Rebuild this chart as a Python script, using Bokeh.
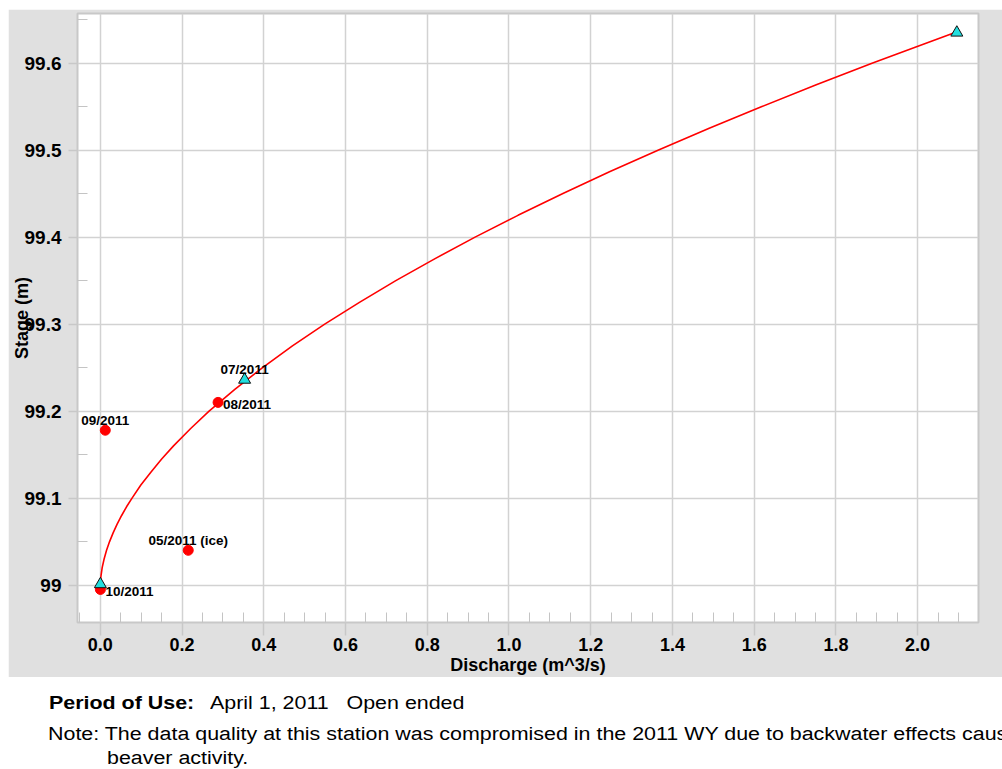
from bokeh.plotting import figure
from bokeh.models import Range1d, FixedTicker, CustomJSTickFormatter, Label, Div
from bokeh.layouts import column
from bokeh.embed import file_html
from bokeh.resources import INLINE

# ---------------- data ----------------
curve_stage = [99.000, 99.005, 99.010, 99.020, 99.030, 99.040, 99.050, 99.060,
               99.070, 99.080, 99.090, 99.100, 99.115, 99.130, 99.145, 99.160,
               99.180, 99.200, 99.225, 99.250, 99.275, 99.300, 99.325, 99.350,
               99.375, 99.400, 99.425, 99.450, 99.475, 99.500, 99.525, 99.550,
               99.575, 99.600, 99.620, 99.635]
curve_discharge = [0.000, 0.0004, 0.0013, 0.0044, 0.0091, 0.0151, 0.0225, 0.0312,
                   0.041, 0.052, 0.064, 0.0775, 0.099, 0.124, 0.150, 0.179,
                   0.221, 0.266, 0.329, 0.397, 0.470, 0.549, 0.634, 0.723,
                   0.818, 0.917, 1.022, 1.132, 1.246, 1.366, 1.490, 1.619,
                   1.752, 1.890, 2.004, 2.090]

meas_discharge = [0.012, 0.288, 0.215, 0.000]
meas_stage = [99.178, 99.210, 99.040, 98.995]
meas_labels = ["09/2011", "08/2011", "05/2011 (ice)", "10/2011"]
meas_label_side = ["above", "right", "above", "right"]

rating_discharge = [0.000, 0.353, 2.096]
rating_stage = [99.001, 99.236, 99.635]
rating_labels = ["", "07/2011", ""]
rating_label_side = ["above", "above", "above"]

x_ticks = [0.0, 0.2, 0.4, 0.6, 0.8, 1.0, 1.2, 1.4, 1.6, 1.8, 2.0]
x_tick_labels = ["0.0", "0.2", "0.4", "0.6", "0.8", "1.0", "1.2", "1.4", "1.6", "1.8", "2.0"]
y_ticks = [99.0, 99.1, 99.2, 99.3, 99.4, 99.5, 99.6]
y_tick_labels = ["99", "99.1", "99.2", "99.3", "99.4", "99.5", "99.6"]

x_title = "Discharge (m^3/s)"
y_title = "Stage (m)"
period_label = "Period of Use:"
period_text = "April 1, 2011   Open ended"
note_line1 = "Note: The data quality at this station was compromised in the 2011 WY due to backwater effects caused by"
note_line2 = "beaver activity."

# ---------------- styles ----------------
FONT = "Liberation Sans"
PANEL = "#e0e0e0"
GRID = "#d2d2d2"
FRAME = "#c8c8c8"

x_min, x_max = -0.056, 2.149
y_min, y_max = 98.957, 99.657

p = figure(width=994, height=668, output_backend="svg", toolbar_location=None,
           x_range=Range1d(x_min, x_max), y_range=Range1d(y_min, y_max),
           min_border_left=69, min_border_right=24, min_border_top=4,
           min_border_bottom=55)
p.margin = (9, 0, 0, 8)
p.border_fill_color = PANEL
p.background_fill_color = "white"
p.outline_line_color = FRAME
p.outline_line_width = 2

x_minor = [round(-0.05 + 0.05 * i, 2) for i in range(45)]
x_minor = [t for t in x_minor if all(abs(t - m) > 1e-6 for m in x_ticks) and t < x_max]
y_minor = [round(98.95 + 0.05 * i, 2) for i in range(15)]
y_minor = [t for t in y_minor if all(abs(t - m) > 1e-6 for m in y_ticks) and y_min < t < y_max]

fmt_code = """
for (let i = 0; i < tvals.length; i++) {
  if (Math.abs(tvals[i] - tick) < 1e-6) { return tlabels[i]; }
}
return "";
"""

xa = p.xaxis[0]
xa.ticker = FixedTicker(ticks=x_ticks, minor_ticks=x_minor)
xa.formatter = CustomJSTickFormatter(args=dict(tvals=x_ticks, tlabels=x_tick_labels), code=fmt_code)
ya = p.yaxis[0]
ya.ticker = FixedTicker(ticks=y_ticks, minor_ticks=y_minor)
ya.formatter = CustomJSTickFormatter(args=dict(tvals=y_ticks, tlabels=y_tick_labels), code=fmt_code)

for ax in (xa, ya):
    ax.axis_line_color = None
    ax.major_tick_line_color = FRAME
    ax.major_tick_line_width = 1.5
    ax.major_tick_in = 0
    ax.minor_tick_line_color = "#c4c4c4"
    ax.minor_tick_line_width = 1
    ax.minor_tick_in = 10
    ax.minor_tick_out = 0
    ax.major_label_text_font = FONT
    ax.major_label_text_font_style = "bold"
    ax.major_label_text_color = "black"
    ax.axis_label_text_font = FONT
    ax.axis_label_text_font_style = "bold"
    ax.axis_label_text_font_size = "18px"
    ax.axis_label_text_color = "black"
xa.major_tick_out = 13
xa.major_label_standoff = 2
xa.major_label_text_font_size = "18px"
ya.major_tick_out = 9
ya.major_label_standoff = 7
ya.major_label_text_font_size = "19px"

xa.axis_label = x_title
xa.axis_label_standoff = 1
ya.axis_label = y_title
ya.axis_label_standoff = -10

p.grid.grid_line_color = GRID
p.grid.grid_line_width = 1.5

# curve and points
p.line(curve_discharge, curve_stage, line_color="red", line_width=1.6)
p.scatter(meas_discharge, meas_stage, marker="circle", size=10,
          fill_color="red", line_color="red")
p.scatter(rating_discharge, rating_stage, marker="triangle", size=12,
          fill_color="#22dede", line_color="#111111", line_width=1)


def add_point_label(x, y, text, side):
    if not text:
        return
    if side == "above":
        lab = Label(x=x, y=y, text=text, text_align="center", text_baseline="middle",
                    x_offset=0, y_offset=10)
    else:
        lab = Label(x=x, y=y, text=text, text_align="left", text_baseline="middle",
                    x_offset=5, y_offset=-2)
    lab.text_font = FONT
    lab.text_font_style = "bold"
    lab.text_font_size = "13.5px"
    lab.text_color = "black"
    p.add_layout(lab)


for x, y, t, s in zip(meas_discharge, meas_stage, meas_labels, meas_label_side):
    add_point_label(x, y, t, s)
for x, y, t, s in zip(rating_discharge, rating_stage, rating_labels, rating_label_side):
    add_point_label(x, y, t, s)

# ---------------- footer text ----------------
span_style = ("position:absolute;transform:scaleX(1.19);transform-origin:0 0;"
              "white-space:pre;")
footer_html = "".join([
    "<div style=\"position:relative;width:994px;height:92px;overflow:hidden;"
    "font-family:'Liberation Sans',Arial,sans-serif;font-size:18px;line-height:18px;"
    "color:#000;\">",
    f"<span style=\"{span_style}left:41px;top:17px;font-weight:bold;\">{period_label}</span>",
    f"<span style=\"{span_style}left:202px;top:17px;\">{period_text}</span>",
    f"<span style=\"{span_style}left:40px;top:48px;\">{note_line1}</span>",
    f"<span style=\"{span_style}left:99px;top:72px;\">{note_line2}</span>",
    "</div>",
])
footer = Div(text=footer_html, width=994, height=92, margin=(0, 0, 0, 8))

layout = column(p, footer, spacing=0)
open("out.html", "w").write(file_html(layout, INLINE))
